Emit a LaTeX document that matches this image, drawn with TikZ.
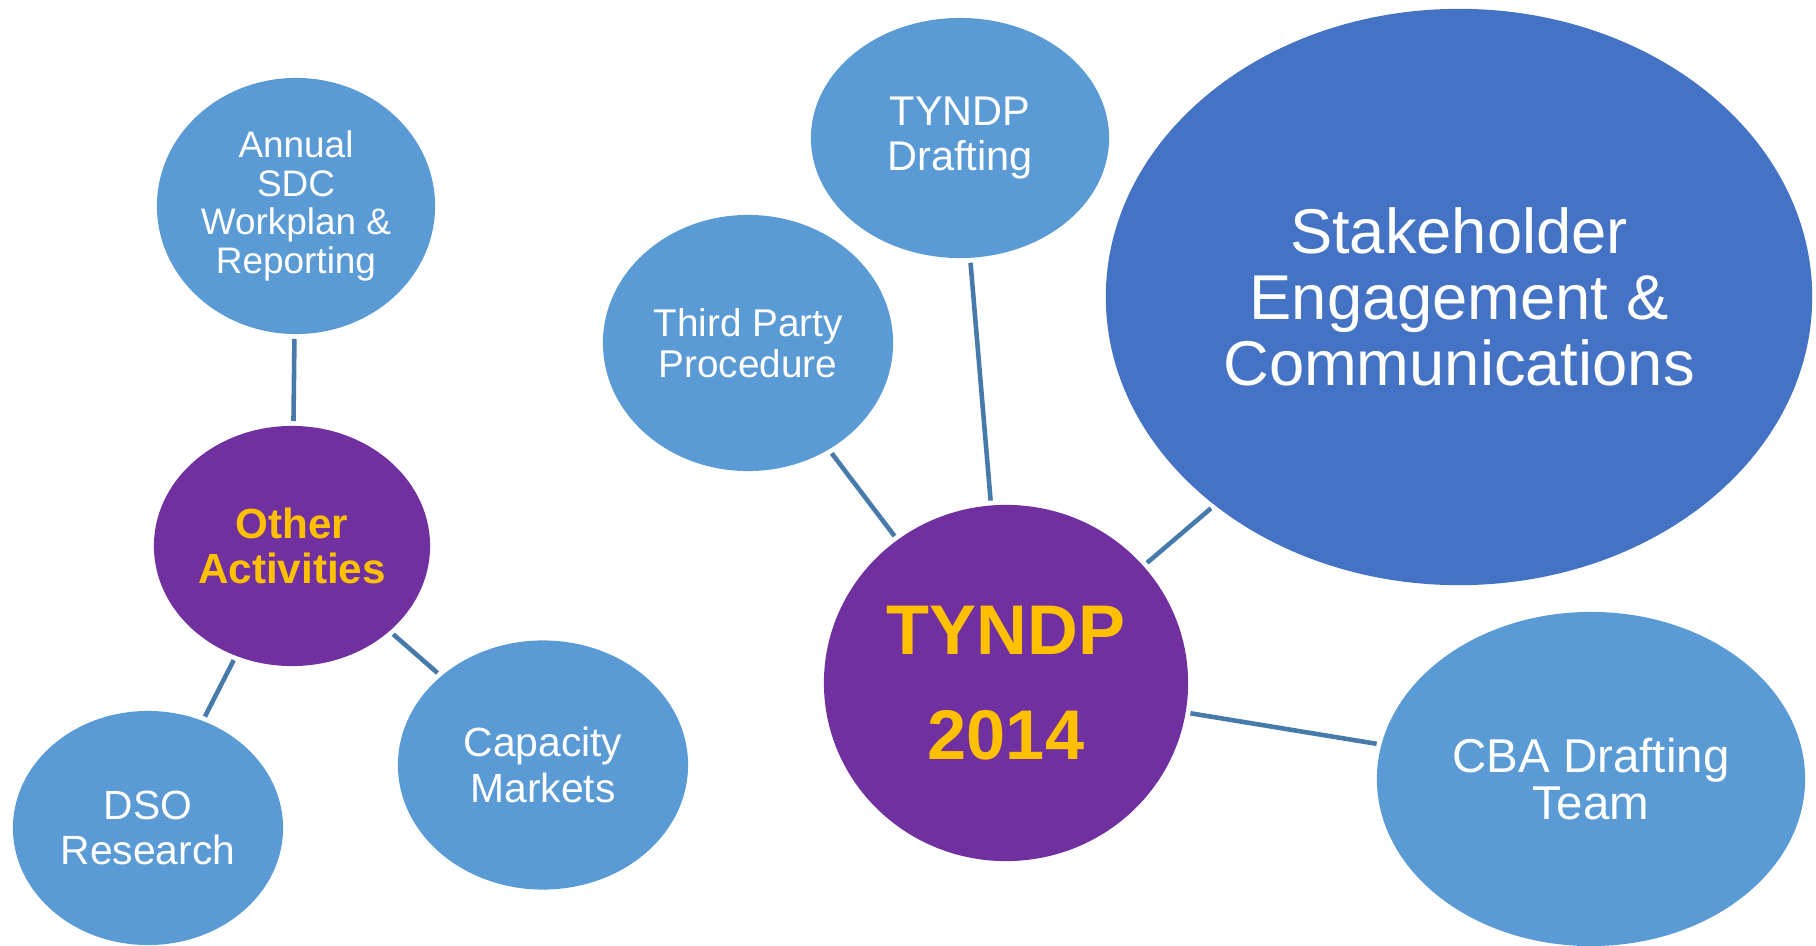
\documentclass[tikz,border=0pt]{standalone}
\usepackage{fontspec}
\setmainfont{Liberation Sans}
\usepackage{xcolor}
\usetikzlibrary{shapes}

\definecolor{bubbleblue}{HTML}{5B9BD5}
\definecolor{deepblue}{HTML}{4472C4}
\definecolor{plum}{HTML}{7030A0}
\definecolor{gold}{HTML}{FFC000}
\definecolor{linkblue}{HTML}{467AAA}

\begin{document}
\begin{tikzpicture}[x=0.01cm, y=-0.01cm,
    bubble/.style={ellipse, fill=bubbleblue, text=white, inner sep=0pt, align=center},
    hub/.style={ellipse, fill=plum, text=gold, inner sep=0pt, align=center},
    link/.style={draw=linkblue, line width=1.3pt, shorten <=1.2pt, shorten >=1.2pt}]
    \useasboundingbox (0,0) rectangle (1816,946);
    % ノード定義
    \node [hub, minimum width=2.76cm, minimum height=2.40cm, font=\fontsize{12}{12.6}\selectfont\bfseries] (other) at (292,546) {Other\\Activities};
    \node [bubble, minimum width=2.78cm, minimum height=2.56cm, font=\fontsize{10.5}{11}\selectfont] (annual) at (296,206) {Annual\\SDC\\Workplan \&\\Reporting};
    \node [bubble, minimum width=2.70cm, minimum height=2.34cm, font=\fontsize{11.6}{12.9}\selectfont] (dso) at (148,828) {DSO\\Research};
    \node [bubble, minimum width=2.90cm, minimum height=2.49cm, font=\fontsize{11.6}{12.9}\selectfont] (capacity) at (543,765) {Capacity\\Markets};
    \node [hub, minimum width=3.64cm, minimum height=3.56cm, font=\fontsize{20}{30}\selectfont\bfseries] (tyndp) at (1006,683) {TYNDP\\2014};
    \node [bubble, minimum width=2.90cm, minimum height=2.56cm, font=\fontsize{11}{11.5}\selectfont] (third) at (748,343) {Third Party\\Procedure};
    \node [bubble, minimum width=2.98cm, minimum height=2.40cm, font=\fontsize{11.8}{12.8}\selectfont] (drafting) at (960,138) {TYNDP\\Drafting};
    \node [ellipse, fill=deepblue, text=white, inner sep=0pt, align=center, minimum width=7.06cm, minimum height=5.76cm, font=\fontsize{18}{18.8}\selectfont] (stakeholder) at (1459,297) {Stakeholder\\Engagement \&\\Communications};
    \node [bubble, minimum width=4.28cm, minimum height=3.34cm, font=\fontsize{13.5}{13.6}\selectfont] (cba) at (1591,779) {CBA Drafting\\Team};

    % エッジ定義
    \draw [link] (annual) -- (other);
    \draw [link] (other) -- (dso);
    \draw [link] (other) -- (capacity);
    \draw [link] (third) -- (tyndp);
    \draw [link] (drafting) -- (tyndp);
    \draw [link] (stakeholder) -- (tyndp);
    \draw [link] (tyndp) -- (cba);
\end{tikzpicture}
\end{document}
